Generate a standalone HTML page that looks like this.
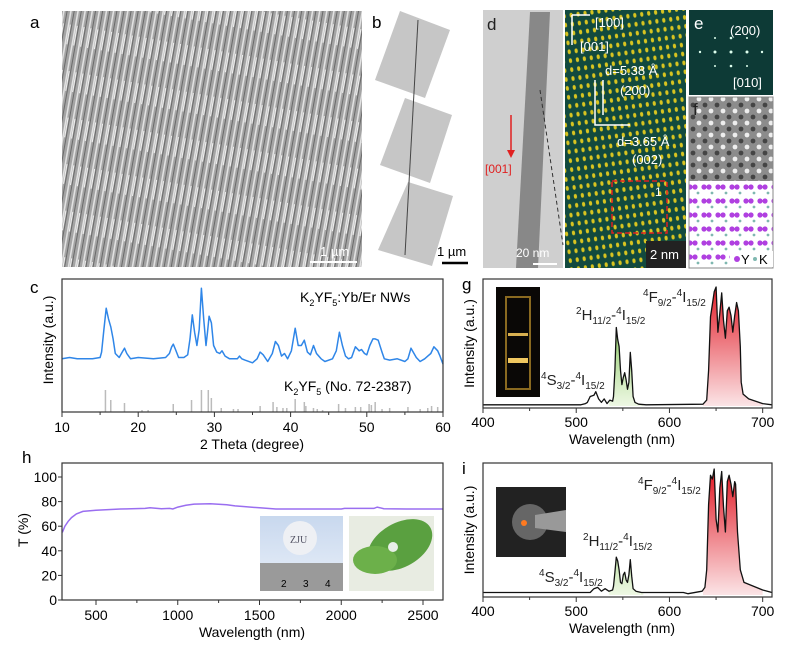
<!DOCTYPE html>
<html><head><meta charset="utf-8"><style>
body{margin:0;background:#fff}
svg{display:block;font-family:"Liberation Sans",Arial,sans-serif}
</style></head><body>
<svg id="fig" width="800" height="653" viewBox="0 0 800 653" xmlns="http://www.w3.org/2000/svg">
<defs>
<pattern id="sem" width="7" height="46" patternUnits="userSpaceOnUse" patternTransform="rotate(10)">
<rect width="7" height="46" fill="#a4a4a4"/><rect x="1" width="1.6" height="46" fill="#e2e2e2"/><rect x="4.5" width="1" height="46" fill="#6a6a6a"/><rect x="3" y="12" width="1" height="20" fill="#f2f2f2"/>
</pattern>
<pattern id="hr" width="7" height="9" patternUnits="userSpaceOnUse" patternTransform="rotate(-8)">
<rect width="7" height="9" fill="#124a3e"/><ellipse cx="3.5" cy="4.5" rx="1.6" ry="2.4" fill="#d8c420"/></pattern>
<pattern id="fsim" width="12" height="12" patternUnits="userSpaceOnUse">
<rect width="12" height="12" fill="#8c8c8c"/><circle cx="3" cy="3" r="2.4" fill="#eee"/><circle cx="9" cy="9" r="2.4" fill="#444"/></pattern>
<pattern id="fmod" width="14" height="14" patternUnits="userSpaceOnUse">
<rect width="14" height="14" fill="#fff"/><circle cx="4" cy="5" r="2.6" fill="#b040e0"/><circle cx="9" cy="5" r="2.6" fill="#b040e0"/><circle cx="12" cy="11" r="1.4" fill="#7fb8b0"/></pattern>
<linearGradient id="gg" x1="0" y1="0" x2="0" y2="1"><stop offset="0" stop-color="#58b020"/><stop offset="1" stop-color="#eef8e4"/></linearGradient>
<linearGradient id="rg" x1="0" y1="0" x2="0" y2="1"><stop offset="0" stop-color="#e0101c"/><stop offset="1" stop-color="#fbe4e6"/></linearGradient>
<linearGradient id="sky" x1="0" y1="0" x2="0" y2="1"><stop offset="0" stop-color="#c8d8ee"/><stop offset="1" stop-color="#dde7f5"/></linearGradient>
</defs>

<text x="30" y="28" font-size="17">a</text>
<rect x="62" y="11" width="300" height="256" fill="url(#sem)"/>
<line x1="310" y1="262" x2="357" y2="262" stroke="#fff" stroke-width="2"/>
<text x="320" y="256" font-size="13" fill="#fff">1 µm</text>

<text x="372" y="28" font-size="17">b</text>
<g fill="#c6c6c6">
<polygon points="400,11 450,30 425,98 375,80"/>
<polygon points="405,98 452,115 430,183 380,165"/>
<polygon points="408,182 453,196 432,266 378,250"/>
<line x1="418" y1="20" x2="405" y2="255" stroke="#444" stroke-width="1"/>
</g>
<line x1="442" y1="263" x2="468" y2="263" stroke="#000" stroke-width="2.5"/>
<text x="437" y="256" font-size="13">1 µm</text>

<g>
<rect x="483" y="10" width="80" height="258" fill="#cfcfcf"/>
<polygon points="530,12 550,12 538,268 516,268" fill="#888"/>
<line x1="540" y1="90" x2="563" y2="245" stroke="#333" stroke-dasharray="4,3"/>
<text x="487" y="30" font-size="17" fill="#222">d</text>
<line x1="511" y1="115" x2="511" y2="155" stroke="#e02020" stroke-width="1.5"/>
<polygon points="507,150 515,150 511,158" fill="#e02020"/>
<text x="485" y="173" font-size="12" fill="#e02020">[001]</text>
<text x="516" y="257" font-size="12" fill="#fff">20 nm</text>
<line x1="533" y1="264" x2="557" y2="264" stroke="#fff" stroke-width="2"/>
</g>
<g>
<rect x="565" y="10" width="121" height="258" fill="url(#hr)"/>
<text x="595" y="27" font-size="13" fill="#fff">[100]</text>
<text x="580" y="51" font-size="13" fill="#fff">[001]</text>
<path d="M572,15 H590 M572,15 V45" stroke="#fff" stroke-width="1.5" fill="none"/>
<text x="605" y="75" font-size="13" fill="#fff">d=5.38 Å</text>
<text x="620" y="95" font-size="13" fill="#fff">(200)</text>
<path d="M595,80 V125 H630 M603,80 V115" stroke="#fff" stroke-width="1.5" fill="none"/>
<text x="617" y="146" font-size="13" fill="#fff">d=3.65 Å</text>
<text x="632" y="164" font-size="13" fill="#fff">(002)</text>
<rect x="612" y="181" width="55" height="52" fill="none" stroke="#e02020" stroke-width="1.5" stroke-dasharray="5,3"/>
<text x="655" y="196" font-size="12" fill="#fff">1</text>
<rect x="646" y="241" width="40" height="27" fill="#222"/>
<text x="650" y="259" font-size="13" fill="#fff">2 nm</text>
</g>
<g>
<rect x="689" y="10" width="84" height="85" fill="#0d3a36"/>
<g fill="#dfe">
<circle cx="731" cy="52" r="1.5"/><circle cx="715" cy="52" r="1.5"/><circle cx="747" cy="52" r="1.5"/><circle cx="700" cy="52" r="1.2"/><circle cx="762" cy="52" r="1.2"/>
<circle cx="731" cy="38" r="1.3"/><circle cx="731" cy="66" r="1.3"/><circle cx="715" cy="38" r="1"/><circle cx="747" cy="66" r="1"/><circle cx="715" cy="66" r="1"/><circle cx="747" cy="38" r="1"/>
</g>
<text x="694" y="29" font-size="17" fill="#fff">e</text>
<text x="730" y="35" font-size="13" fill="#fff">(200)</text>
<text x="733" y="87" font-size="13" fill="#fff">[010]</text>
</g>
<g>
<rect x="689" y="97" width="84" height="84" fill="url(#fsim)"/>
<rect x="689" y="181" width="84" height="87" fill="url(#fmod)"/>
<rect x="689" y="97" width="84" height="171" fill="none" stroke="#888"/>
<text x="693" y="115" font-size="17" fill="#222">f</text>
<rect x="730" y="251" width="43" height="16" fill="#fff"/>
<circle cx="737" cy="259" r="3" fill="#b040e0"/><text x="741" y="264" font-size="13">Y</text>
<circle cx="755" cy="259" r="2" fill="#7fb8b0"/><text x="759" y="264" font-size="13">K</text>
</g>

<g id="c"></g>
<g id="g"></g>
<g id="h"></g>
<g id="i"></g>
</svg>
<script>
const xrdAngles = [10,11,12,13,14,15,15.2,15.5,15.8,16.1,16.4,16.7,17,17.5,17.9,18.2,18.5,19,20,22,23.6,24.1,24.4,24.6,24.9,25.3,26,26.5,26.8,27.1,27.4,27.7,28,28.3,28.6,28.9,29.1,29.3,29.6,29.9,30.3,30.7,31,31.4,32,33,33.3,33.6,34,35,35.6,36,36.4,37,37.6,38,38.4,38.8,39.2,39.6,40.1,40.6,41,41.4,41.8,42.2,42.6,43,43.4,44,44.5,45.5,46,46.4,46.8,47.2,47.6,48,48.5,49,49.3,49.7,50,50.4,50.8,51.1,51.5,52,52.3,53,54,55,55.4,55.8,56.5,57,57.6,58,58.4,58.8,59.3,59.6,60];
const xrdIntensity = [40,41,40,40,40,41,45,62,78,70,64,55,44,41,45,48,44,40,41,40,41,44,49,51,47,41,41,43,55,73,60,50,62,93,70,50,60,72,67,50,45,44,46,42,40,40,42,40,39,37,40,45,43,38,44,53,50,42,44,40,46,63,50,50,54,45,43,50,44,40,38,40,46,60,50,42,40,41,49,46,47,44,43,50,55,55,54,45,40,39,40,38,40,48,41,38,40,42,44,49,46,42,36];
const refAngles = [15.7,16.4,18.2,20.5,21.3,24.6,27.0,28.3,29.2,29.6,30.9,32.5,33.1,36.0,37.7,38.2,39.0,39.5,40.6,41.8,42.0,43.0,43.5,44.2,46.3,47.2,48.5,49.2,50.3,50.6,51.1,52.0,53.0,55.4,57.0,58.0,58.5,59.3];
const refHeights = [22,12,9,2,2,8,12,22,22,14,4,3,3,6,10,5,4,4,13,10,6,4,3,2,8,4,5,5,8,7,10,3,4,5,3,4,6,5];
const cTicks = [10,20,30,40,50,60];

const gWave = [400,505,510,512,515,519,521,524,527,530,533,536,539,540,541.5,543,544.5,546,547.5,549,550.5,552,553.5,555,556.5,558,559.5,561,563,567,575,636,640,642,644,646,648,650,652,654,656,658,660,662,664,666,668,670,672,674,676,677,679,682,685,700,710];
const gInt  = [0.01,0.01,0.02,0.03,0.08,0.09,0.12,0.06,0.03,0.06,0.02,0.05,0.04,0.08,0.3,0.66,0.56,0.5,0.3,0.18,0.24,0.28,0.22,0.14,0.2,0.45,0.3,0.08,0.03,0.015,0.01,0.015,0.05,0.3,0.75,0.85,0.96,1.0,0.62,0.78,0.95,0.72,0.57,0.8,0.83,0.76,0.62,0.76,0.87,0.8,0.5,0.2,0.1,0.08,0.06,0.02,0.01];
const iWave = [400,505,515,519,523,527,531,535,539,540,541.5,543,544.5,546,547.5,549,550.5,552,553.5,555,556.5,558,559.5,561,564,570,615,620,635,638,640,642,644,646,648,650,652,654,656,658,660,662,664,666,668,670,671,673,676,680,700,710];
const iInt  = [0.02,0.02,0.02,0.05,0.06,0.03,0.05,0.03,0.04,0.07,0.18,0.3,0.27,0.2,0.1,0.09,0.16,0.18,0.12,0.1,0.16,0.28,0.15,0.05,0.03,0.02,0.02,0.01,0.03,0.06,0.2,0.72,0.95,0.92,1.0,0.6,0.5,0.85,0.98,0.7,0.5,0.9,0.95,0.88,0.78,0.9,0.88,0.5,0.2,0.1,0.04,0.02];
const emTicks = [400,500,600,700];

const tWave = [294,310,330,350,380,420,500,650,800,830,900,950,970,1000,1050,1100,1200,1300,1350,1400,1500,1600,1800,2000,2020,2200,2220,2260,2400,2622];
const tVal  = [55,60,64,67,70,72,73,74,74.5,75,74.2,74.5,74,75.5,77,78,78.2,77.5,76.5,76,75,74,74,74,74.5,74.5,75.5,74.2,74,74];
const hXTicks = [500,1000,1500,2000,2500];
const hYTicks = [0,20,40,60,80,100];

const NS='http://www.w3.org/2000/svg';
function mk(parent,tag,attrs,txt){const e=document.createElementNS(NS,tag);for(const k in attrs)e.setAttribute(k,attrs[k]);if(txt!==undefined)e.textContent=txt;parent.appendChild(e);return e;}
function lin(d0,d1,r0,r1){return v=>r0+(v-d0)*(r1-r0)/(d1-d0);}

(function(){
const g=document.getElementById('c');
const L=62,R=443,T=279,B=412;
const x=lin(10,60,L,R), y=lin(0,100,B,B-133);
let p=xrdAngles.map((a,k)=>x(a).toFixed(1)+','+y(xrdIntensity[k]).toFixed(1)).join(' ');
const line=mk(g,'polyline',{points:p,fill:'none',stroke:'#2f86e8','stroke-width':1.5,'stroke-linejoin':'round'});


refAngles.forEach((a,k)=>{const s=mk(g,'line',{x1:x(a),x2:x(a),y1:B,y2:B-refHeights[k],stroke:'#bbb','stroke-width':1.5});

});
mk(g,'rect',{x:L,y:T,width:R-L,height:B-T,fill:'none',stroke:'#333','stroke-width':1.2});
for(let v=10;v<=60;v+=5){mk(g,'line',{x1:x(v),x2:x(v),y1:B,y2:B+(v%10?3:5),stroke:'#333'});}
cTicks.forEach(v=>{const t=mk(g,'text',{x:x(v),y:432,'font-size':14,'text-anchor':'middle'},String(v));

});
const xt=mk(g,'text',{x:252,y:449,'font-size':14,'text-anchor':'middle'},'2 Theta (degree)');


const yt=mk(g,'text',{x:0,y:0,'font-size':14,'text-anchor':'middle',transform:'translate(53,340) rotate(-90)'},'Intensity (a.u.)');


const pl=mk(g,'text',{x:30,y:293,'font-size':17},'c');


const l1=mk(g,'text',{x:300,y:302,'font-size':14});


l1.innerHTML='K<tspan font-size="9" dy="4">2</tspan><tspan dy="-4">YF</tspan><tspan font-size="9" dy="4">5</tspan><tspan dy="-4">:Yb/Er NWs</tspan>';
const l2=mk(g,'text',{x:284,y:391,'font-size':14});


l2.innerHTML='K<tspan font-size="9" dy="4">2</tspan><tspan dy="-4">YF</tspan><tspan font-size="9" dy="4">5</tspan><tspan dy="-4"> (No. 72-2387)</tspan>';
})();

function emission(id,wave,inten,T,B,base,top,letter,labels){
const g=document.getElementById(id);
const L=483,R=772;
const x=lin(400,710,L,R), y=lin(0,1,base,top);
const pts=wave.map((w,k)=>[x(w),y(inten[k])]);
const cid='clip'+id;
const cp=mk(g,'clipPath',{id:cid});
mk(cp,'polygon',{points:pts.map(p=>p.join(',')).join(' ')+' '+x(710)+','+base+' '+x(400)+','+base});
const cg=mk(g,'g',{'clip-path':'url(#'+cid+')'});
mk(cg,'rect',{x:x(535),y:T,width:x(572)-x(535),height:base-T,fill:'url(#gg)'});
mk(cg,'rect',{x:x(636),y:T,width:x(700)-x(636),height:base-T,fill:'url(#rg)'});
const ln=mk(g,'polyline',{points:pts.map(p=>p[0].toFixed(1)+','+p[1].toFixed(1)).join(' '),fill:'none',stroke:'#111','stroke-width':1.3,'stroke-linejoin':'round'});


mk(g,'rect',{x:L,y:T,width:R-L,height:B-T,fill:'none',stroke:'#333','stroke-width':1.2});
for(let v=400;v<=700;v+=50){mk(g,'line',{x1:x(v),x2:x(v),y1:B,y2:B+(v%100?3:5),stroke:'#333'});}
emTicks.forEach(v=>{const t=mk(g,'text',{x:x(v),y:B+19,'font-size':14,'text-anchor':'middle'},String(v));

});
const xt=mk(g,'text',{x:622,y:B+36,'font-size':14,'text-anchor':'middle'},'Wavelength (nm)');


const yt=mk(g,'text',{x:0,y:0,'font-size':14,'text-anchor':'middle',transform:'translate(474,'+((T+B)/2)+') rotate(-90)'},'Intensity (a.u.)');


const pl=mk(g,'text',{x:462,y:T+11,'font-size':17},letter);


labels.forEach(lb=>{const t=mk(g,'text',{x:lb[0],y:lb[1],'font-size':15,fill:'#222'});


t.innerHTML=lb[2];});
}
const sLab='<tspan font-size="10" dy="-6">4</tspan><tspan dy="6">S</tspan><tspan font-size="10" dy="4">3/2</tspan><tspan dy="-4">-</tspan><tspan font-size="10" dy="-6">4</tspan><tspan dy="6">I</tspan><tspan font-size="10" dy="4">15/2</tspan>';
const hLab='<tspan font-size="10" dy="-6">2</tspan><tspan dy="6">H</tspan><tspan font-size="10" dy="4">11/2</tspan><tspan dy="-4">-</tspan><tspan font-size="10" dy="-6">4</tspan><tspan dy="6">I</tspan><tspan font-size="10" dy="4">15/2</tspan>';
const fLab='<tspan font-size="10" dy="-6">4</tspan><tspan dy="6">F</tspan><tspan font-size="10" dy="4">9/2</tspan><tspan dy="-4">-</tspan><tspan font-size="10" dy="-6">4</tspan><tspan dy="6">I</tspan><tspan font-size="10" dy="4">15/2</tspan>';
emission('g',gWave,gInt,279,408,406,287,'g',[[541,385,sLab],[576,320,hLab],[643,302,fLab]]);
emission('i',iWave,iInt,463,597,595,469,'i',[[539,582,sLab],[583,546,hLab],[638,490,fLab]]);

(function(){
const g=document.getElementById('h');
const L=62,R=443,T=463,B=600;
const x=lin(500,2500,96,423), y=lin(0,100,B,477);
const ln=mk(g,'polyline',{points:tWave.map((w,k)=>x(w).toFixed(1)+','+y(tVal[k]).toFixed(1)).join(' '),fill:'none',stroke:'#9a6ef0','stroke-width':1.5});


mk(g,'rect',{x:L,y:T,width:R-L,height:B-T,fill:'none',stroke:'#333','stroke-width':1.2});
for(let v=500;v<=2500;v+=250){mk(g,'line',{x1:x(v),x2:x(v),y1:B,y2:B+(v%500?3:5),stroke:'#333'});}
hXTicks.forEach(v=>{const t=mk(g,'text',{x:x(v),y:620,'font-size':14,'text-anchor':'middle'},String(v));

});
hYTicks.forEach(v=>{mk(g,'line',{x1:L,x2:L-4,y1:y(v),y2:y(v),stroke:'#333'});
const t=mk(g,'text',{x:L-5,y:y(v)+5,'font-size':14,'text-anchor':'end'},String(v));

});
const xt=mk(g,'text',{x:252,y:637,'font-size':14,'text-anchor':'middle'},'Wavelength (nm)');


const yt=mk(g,'text',{x:0,y:0,'font-size':14,'text-anchor':'middle',transform:'translate(28,530) rotate(-90)'},'T (%)');


const pl=mk(g,'text',{x:22,y:463,'font-size':17},'h');


})();

(function(){
const s=document.getElementById('fig');
s.insertAdjacentHTML('beforeend',
'<g><rect x="260" y="516" width="83" height="47" fill="url(#sky)"/><circle cx="300" cy="538" r="17" fill="#eef0f4"/><text x="290" y="543" font-size="10" font-family="Liberation Serif" fill="#556">ZJU</text><rect x="260" y="563" width="83" height="28" fill="#9a9a9a"/><text x="281" y="587" font-size="10">2</text><text x="303" y="587" font-size="10">3</text><text x="325" y="587" font-size="10">4</text></g>'+
'<g><rect x="349" y="516" width="85" height="75" fill="#e8ece2"/><ellipse cx="400" cy="545" rx="35" ry="22" fill="#5aa040" transform="rotate(-30 400 545)"/><ellipse cx="375" cy="560" rx="22" ry="14" fill="#6cb04a"/><circle cx="393" cy="547" r="5" fill="#e8efe8"/></g>'+
'<g><rect x="496" y="287" width="44" height="110" fill="#0a0806"/><rect x="506" y="297" width="24" height="92" fill="none" stroke="#8a6a20" stroke-width="2"/><rect x="508" y="333" width="20" height="3" fill="#d8b050"/><rect x="508" y="358" width="20" height="5" fill="#f0c860"/></g>'+
'<g><rect x="496" y="487" width="70" height="70" fill="#222"/><circle cx="530" cy="522" r="18" fill="#666"/><polygon points="535,515 566,510 566,532 535,528" fill="#999"/><circle cx="524" cy="523" r="3" fill="#ff7a20"/></g>');
})();
</script>
</body></html>
